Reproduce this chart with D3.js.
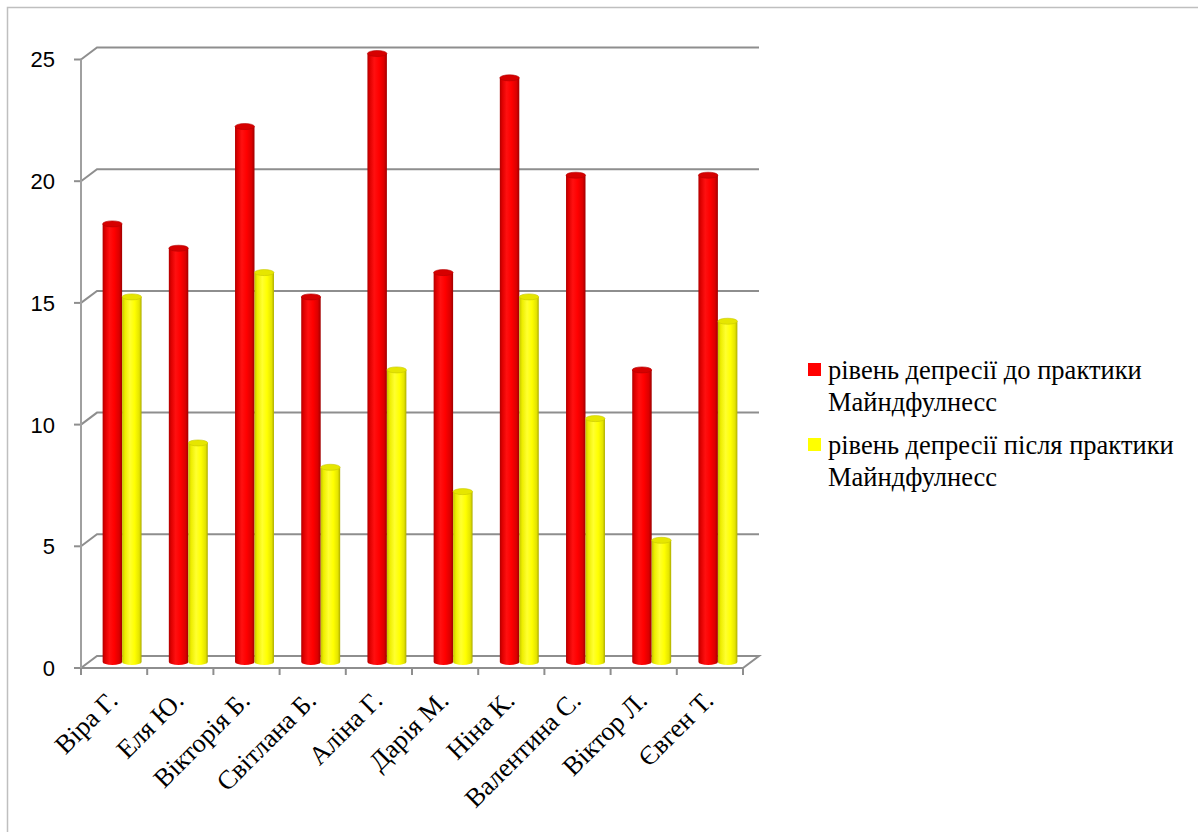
<!DOCTYPE html>
<html>
<head>
<meta charset="utf-8">
<script src="https://cdn.jsdelivr.net/npm/d3@7"></script>
<style>
  html, body { margin: 0; padding: 0; background: #fff; }
  svg { display: block; }
</style>
</head>
<body>
<svg id="chart" width="1198" height="832"></svg>
<script>
const categories = ["Віра Г.", "Еля Ю.", "Вікторія Б.", "Світлана Б.", "Аліна Г.", "Дарія М.", "Ніна К.", "Валентина С.", "Віктор Л.", "Євген Т."];
const beforeValues = [18, 17, 22, 15, 25, 16, 24, 20, 12, 20];
const afterValues = [15, 9, 16, 8, 12, 7, 15, 10, 5, 14];
const seriesNames = ["рівень депресії до практики Майндфулнесс", "рівень депресії після практики Майндфулнесс"];
const seriesLegendLines = [["рівень депресії до практики", "Майндфулнесс"], ["рівень депресії після практики", "Майндфулнесс"]];
const yTicks = [0, 5, 10, 15, 20, 25];

const svg = d3.select("#chart");
const defs = svg.append("defs");

// frame
svg.append("rect").attr("x", 7.5).attr("y", 7.5).attr("width", 1400).attr("height", 1000)
  .attr("fill", "none").attr("stroke", "#bfbfbf").attr("stroke-width", 1.5);

// geometry
const depthDX = 16, depthDY = -12;
const x = d3.scaleBand().domain(categories).range([81, 743]).paddingInner(0).paddingOuter(0);
const y = d3.scaleLinear().domain([0, 25]).range([668, 59.5]);
const inner = d3.scaleBand().domain([0, 1]).range([0, x.bandwidth()]).paddingInner(0).paddingOuter(0.7);

const gridColor = "#8e8e8e";

// gradients
function cylGrad(id, stops) {
  const g = defs.append("linearGradient").attr("id", id).attr("x1", "0%").attr("x2", "100%").attr("y1", "0%").attr("y2", "0%");
  stops.forEach(s => g.append("stop").attr("offset", s[0]).attr("stop-color", s[1]));
}
cylGrad("gRed", [["0%", "#b00000"], ["12%", "#dd0000"], ["35%", "#ff1010"], ["60%", "#ff0000"], ["85%", "#dc0000"], ["100%", "#a00000"]]);
cylGrad("gYel", [["0%", "#c4c400"], ["15%", "#eeee00"], ["40%", "#ffff30"], ["65%", "#ffff00"], ["88%", "#e4e400"], ["100%", "#adad00"]]);
const seriesFill = ["url(#gRed)", "url(#gYel)"];
const topFill = ["#d60000", "#e6e600"];
const topStroke = ["#b40000", "#c8c800"];
const legendColor = ["#ff0000", "#ffff00"];

// floor
const x0 = x.range()[0], x1 = x.range()[1], yz = y(0);
svg.append("path")
  .attr("d", `M${x0},${yz}L${x1},${yz}L${x1 + depthDX},${yz + depthDY}L${x0 + depthDX},${yz + depthDY}Z`)
  .attr("fill", "#fff").attr("stroke", gridColor).attr("stroke-width", 2);

// gridlines on back wall with side connectors
yTicks.forEach(v => {
  const yf = y(v);
  if (v > 0) {
    svg.append("path")
      .attr("d", `M${x0},${yf}L${x0 + depthDX},${yf + depthDY}H${x1 + depthDX}`)
      .attr("fill", "none").attr("stroke", gridColor).attr("stroke-width", 2);
  }
  svg.append("line").attr("x1", x0 - 7).attr("x2", x0).attr("y1", yf).attr("y2", yf)
    .attr("stroke", gridColor).attr("stroke-width", 2);
});

// vertical axis line
svg.append("line").attr("x1", x0).attr("x2", x0).attr("y1", y(25)).attr("y2", y(0))
  .attr("stroke", "#a0a0a0").attr("stroke-width", 2);

// x ticks
d3.range(categories.length + 1).forEach(i => {
  const xt = x0 + i * x.step();
  svg.append("line").attr("x1", xt).attr("x2", xt).attr("y1", yz).attr("y2", yz + 7)
    .attr("stroke", gridColor).attr("stroke-width", 2);
});

// y labels
svg.append("g").selectAll("text").data(yTicks).join("text")
  .attr("x", 55).attr("y", d => y(d)).attr("dy", "0.36em")
  .attr("text-anchor", "end")
  .attr("font-family", "'Liberation Sans', Arial, sans-serif").attr("font-size", 22)
  .attr("fill", "#000").text(d => d);

// bars (cylinders) at mid depth
const midDX = depthDX / 2, midDY = depthDY / 2;
const seriesData = [beforeValues, afterValues];
const ry = 3;
seriesData.forEach((vals, si) => {
  const g = svg.append("g");
  vals.forEach((v, i) => {
    const bx = x(categories[i]) + midDX + inner(si);
    const bw = inner.bandwidth();
    const yt = y(v) + midDY;
    const yb = y(0) + midDY;
    const cx = bx + bw / 2;
    g.append("path")
      .attr("d", `M${bx},${yt}L${bx},${yb}A${bw / 2},${ry} 0 0 0 ${bx + bw},${yb}L${bx + bw},${yt}Z`)
      .attr("fill", seriesFill[si]);
    g.append("ellipse").attr("cx", cx).attr("cy", yt).attr("rx", bw / 2).attr("ry", ry)
      .attr("fill", topFill[si]).attr("stroke", topStroke[si]).attr("stroke-width", 0.6);
  });
});

// x labels
svg.append("g").selectAll("text").data(categories).join("text")
  .attr("transform", d => `translate(${x(d) + x.bandwidth() / 2 + 5},${702}) rotate(-45)`)
  .attr("text-anchor", "end")
  .attr("font-family", "'Liberation Serif', 'Times New Roman', serif").attr("font-size", 26.5)
  .attr("fill", "#000").text(d => d);

// legend
const legend = svg.append("g");
const legendTop = [363, 438];
seriesLegendLines.forEach((lines, si) => {
  legend.append("rect").attr("x", 808).attr("y", legendTop[si]).attr("width", 13).attr("height", 13)
    .attr("fill", legendColor[si]);
  const t = legend.append("text").attr("x", 828).attr("y", legendTop[si] + 16)
    .attr("font-family", "'Liberation Serif', 'Times New Roman', serif").attr("font-size", 26.5).attr("fill", "#000");
  lines.forEach((ln, k) => {
    t.append("tspan").attr("x", 828).attr("dy", k === 0 ? 0 : 32).text(ln);
  });
});
</script>
</body>
</html>
